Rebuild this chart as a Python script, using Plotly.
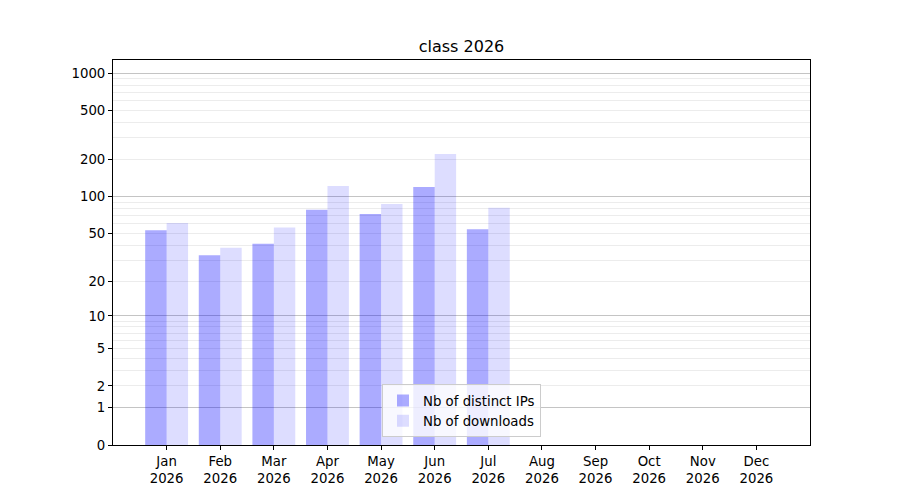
import numpy as np
import plotly.graph_objects as go

months = ['Jan', 'Feb', 'Mar', 'Apr', 'May', 'Jun', 'Jul', 'Aug', 'Sep', 'Oct', 'Nov', 'Dec']
year = '2026'
distinct_ips = [53, 33, 41, 78, 72, 120, 54]
downloads = [61, 38, 56, 122, 87, 222, 81]

# y axis is log10(1 + v), like a symlog scale
major_ticks = [1, 10, 100, 1000]
other_ticks = [0, 2, 5, 20, 50, 200, 500]
minor_ticks = [m * d for d in (1, 10, 100) for m in range(2, 10)]


def sl(v):
    return np.log10(1 + np.asarray(v, dtype=float))


xi = list(range(len(months)))
font = "DejaVu Sans"
yrange = [0, 3.107]

fig = go.Figure()

fig.add_trace(go.Bar(
    x=xi[:len(distinct_ips)], y=sl(distinct_ips), width=0.4, offset=-0.4,
    marker=dict(color='rgba(0,0,255,0.33)', line=dict(width=0)),
    name='Nb of distinct IPs',
))
fig.add_trace(go.Bar(
    x=xi[:len(downloads)], y=sl(downloads), width=0.4, offset=0,
    marker=dict(color='rgba(0,0,255,0.133)', line=dict(width=0)),
    name='Nb of downloads', yaxis='y2',
))

# page body has an 8px margin, so the margins are shifted by that much
fig.update_layout(
    width=900, height=500,
    margin=dict(l=105, r=98, t=52, b=63),
    plot_bgcolor='white', paper_bgcolor='white',
    font=dict(family=font, size=13.3, color='black'),
    title=dict(text='class 2026', x=0.5, xref='paper', y=1 - 38 / 500, yref='container',
               xanchor='center', yanchor='middle', font=dict(size=16, color='black')),
    showlegend=True,
    legend=dict(x=0.5, xanchor='center', y=0.02, yanchor='bottom',
                bgcolor='rgba(255,255,255,0.8)', bordercolor='#cccccc', borderwidth=1,
                font=dict(size=13.3), tracegroupgap=0),
    barmode='overlay',
    xaxis=dict(
        range=[-1, 12], tickvals=xi, ticktext=[m + '<br>' + year for m in months],
        showgrid=False, zeroline=False, showline=True, mirror=True,
        linecolor='black', linewidth=1, ticks='outside', ticklen=4, tickcolor='black',
    ),
    yaxis=dict(
        range=yrange, tickvals=sl(major_ticks), ticktext=[str(t) for t in major_ticks],
        showgrid=True, gridcolor='#c4c4c4', gridwidth=1, zeroline=False,
        showline=True, mirror=True, linecolor='black', linewidth=1,
        ticks='outside', ticklen=4, tickcolor='black',
        minor=dict(tickvals=sl(minor_ticks), showgrid=True, gridcolor='#ececec',
                   gridwidth=1, ticklen=0),
    ),
    yaxis2=dict(
        range=yrange, overlaying='y', side='left', anchor='x',
        tickvals=sl(other_ticks), ticktext=[str(t) for t in other_ticks],
        showgrid=False, zeroline=False, showline=False,
        ticks='outside', ticklen=4, tickcolor='black',
    ),
)

fig.write_html("out.html")
